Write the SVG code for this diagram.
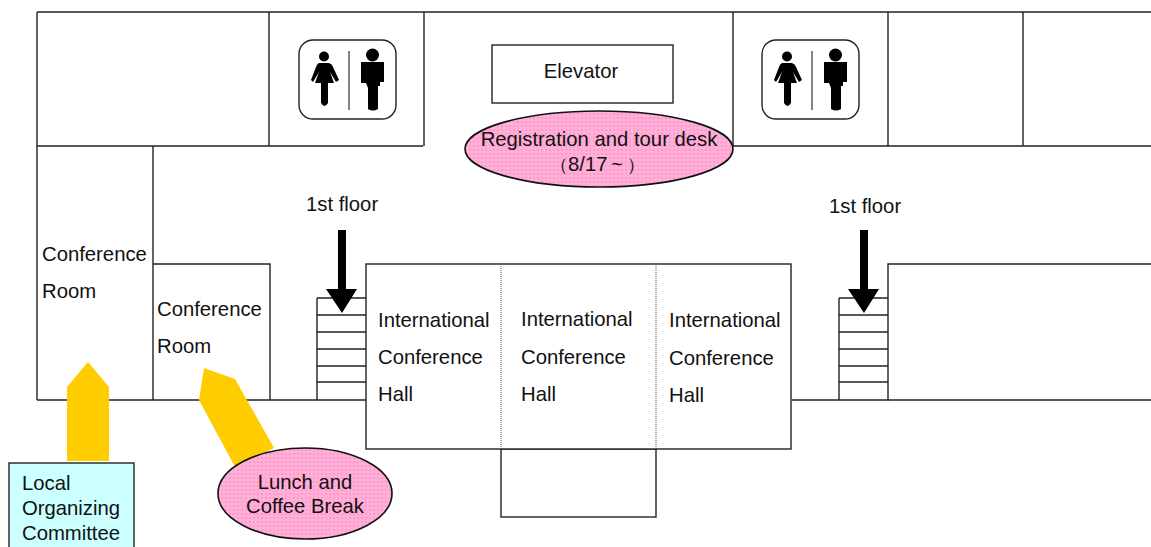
<svg xmlns="http://www.w3.org/2000/svg" width="1151" height="547" viewBox="0 0 1151 547">
<style>
.w{fill:none;stroke:#222;stroke-width:1.4}
.r{fill:#fff;stroke:#222;stroke-width:1.4}
.d{fill:none;stroke:#555;stroke-width:1;stroke-dasharray:1 1}
text{font-family:"Liberation Sans",Arial,sans-serif;font-size:20.3px;fill:#111}
.y{fill:#ffcc00}
.p{fill:url(#dots);stroke:#111;stroke-width:1.6}
.k{fill:#000;stroke:none}
</style>
<defs>
<pattern id="dots" width="4" height="4" patternUnits="userSpaceOnUse">
<rect width="4" height="4" fill="#ffb0d8"/>
<rect x="1" y="1" width="2" height="2" fill="#ff99cc"/>
</pattern>
<g id="rest">
<rect x="0" y="0" width="97" height="79" rx="14" ry="14" fill="#fff" stroke="#222" stroke-width="1.4"/>
<line x1="50" y1="11" x2="50" y2="70" stroke="#333" stroke-width="1.2"/>
<circle cx="25" cy="16.5" r="5" class="k"/>
<path class="k" d="M20 23H30Q33 24 34 27L40 40L37 42L31 32L35 43H29V63Q25.500 69 22 63V43H16L20 32L14 42L12 40L17 27Q18 24 20 23Z"/>
<circle cx="73.500" cy="15" r="6.500" class="k"/>
<path class="k" d="M62 22H85V42H81V46H79V69Q74 72 69 69V48L67 43H62Z"/>
</g>
</defs>
<g id="walls" class="w">
<path d="M37 12H1151"/>
<path d="M37 12V400"/>
<path d="M37 146H423"/>
<path d="M733 146H1151"/>
<path d="M269 12V146"/>
<path d="M424 12V146"/>
<path d="M733 12V146"/>
<path d="M888 12V146"/>
<path d="M1023 12V146"/>
<path d="M153 146V400"/>
<path d="M153 264H270V400"/>
<path d="M37 400H366"/>
<path d="M792 400H888V264H1151"/>
<path d="M888 400H1151"/>
</g>
<g id="stairs-left" class="w">
<path d="M317 298H366M317 315H366M317 332H366M317 349H366M317 366H366M317 382H366M317 298V400"/>
</g>
<g id="stairs-right" class="w">
<path d="M839 298H888M839 315H888M839 332H888M839 349H888M839 366H888M839 382H888M839 298V400"/>
</g>
<g id="restroom-left"><use href="#rest" x="299" y="40"/></g>
<g id="restroom-right"><use href="#rest" x="762" y="40"/></g>
<g id="elevator">
<rect class="r" x="492" y="45" width="181" height="58"/>
<text x="581" y="78" text-anchor="middle">Elevator</text>
</g>
<g id="registration">
<ellipse class="p" cx="599" cy="149" rx="134" ry="38"/>
<text x="599" y="146" text-anchor="middle">Registration and tour desk</text>
<text x="550" y="171" word-spacing="-2"><tspan style="font-size:18px">（</tspan>8/17 ~ <tspan style="font-size:18px">）</tspan></text>
</g>
<g id="conference-room-1">
<text x="42" y="261">Conference</text>
<text x="42" y="298">Room</text>
</g>
<g id="conference-room-2">
<text x="157" y="316">Conference</text>
<text x="157" y="353">Room</text>
</g>
<g id="annex"><rect class="r" x="501" y="449" width="155" height="68"/></g>
<g id="hall">
<rect class="r" x="366" y="264" width="425" height="185"/>
<line class="d" x1="501" y1="264" x2="501" y2="449"/>
<line class="d" x1="656" y1="264" x2="656" y2="449"/>
<text x="378" y="327">International</text>
<text x="378" y="364">Conference</text>
<text x="378" y="401">Hall</text>
<text x="521" y="326">International</text>
<text x="521" y="364">Conference</text>
<text x="521" y="401">Hall</text>
<text x="669" y="327">International</text>
<text x="669" y="365">Conference</text>
<text x="669" y="402">Hall</text>
</g>
<g id="connectors">
<path class="y" d="M67 461V387L88 362L109 387V461Z"/>
<path class="y" d="M199 400L204 368L235 379L274 448L235 467Z"/>
<path class="k" d="M338 230H346V289H357L342 313L326 289H338Z"/>
<path class="k" d="M860 230H868V289H879L864 313L848 289H860Z"/>
</g>
<g id="floor-left"><text x="306" y="211">1st floor</text></g>
<g id="floor-right"><text x="829" y="213">1st floor</text></g>
<g id="committee">
<rect x="9" y="463" width="125" height="90" fill="#ccffff" stroke="#222" stroke-width="1.4"/>
<text x="22" y="490">Local</text>
<text x="22" y="515">Organizing</text>
<text x="22" y="540">Committee</text>
</g>
<g id="lunch">
<ellipse class="p" cx="305" cy="493.500" rx="87" ry="45.500"/>
<text x="305" y="489" text-anchor="middle">Lunch and</text>
<text x="305" y="513" text-anchor="middle">Coffee Break</text>
</g>
</svg>
